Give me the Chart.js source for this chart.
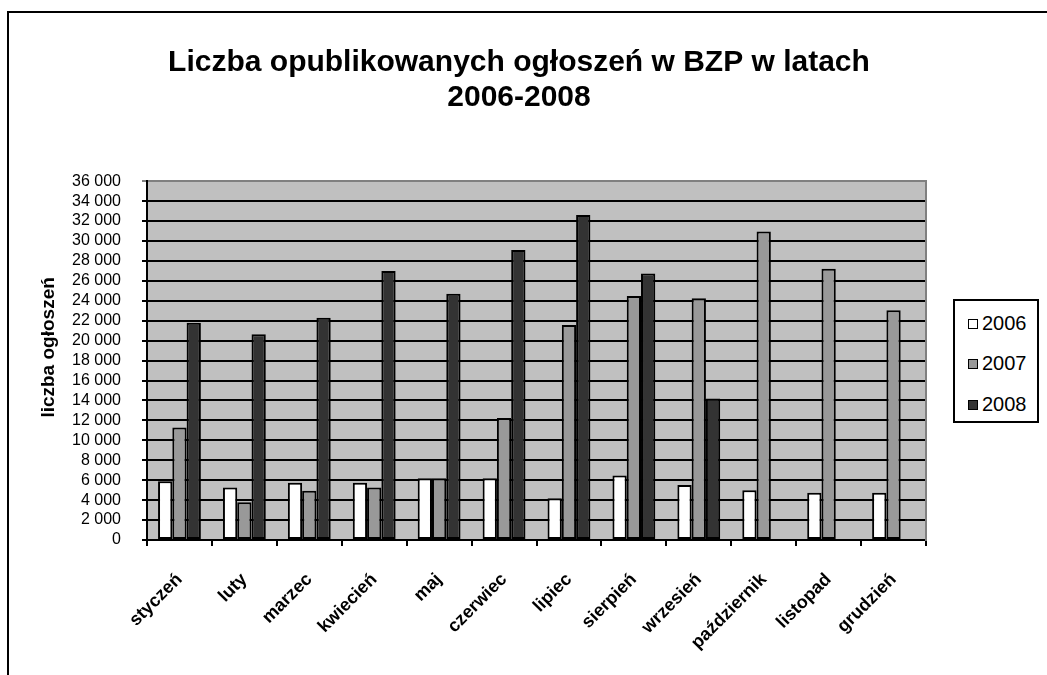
<!DOCTYPE html>
<html lang="pl">
<head>
<meta charset="utf-8">
<title>Liczba opublikowanych ogłoszeń w BZP</title>
<script src="https://cdn.jsdelivr.net/npm/chart.js@4.4.1/dist/chart.umd.min.js"></script>
<style>
    html, body { margin: 0; padding: 0; background: #fff; overflow: hidden; }
    #frame { position: absolute; left: 7px; top: 11px; width: 2000px; height: 2000px; border: 2px solid #000; }
    #chart { position: absolute; left: 0; top: 0; }
    #legend {
        position: absolute; left: 953px; top: 299px; width: 82px; height: 120px;
        border: 2px solid #000; background: #fff;
        font-family: 'Liberation Sans', Arial, sans-serif; font-size: 20px; color: #000;
    }
    #legend .item { position: absolute; left: 13px; height: 20px; line-height: 20px; white-space: nowrap; }
    #legend .sw { display: inline-block; width: 8px; height: 8px; border: 1.5px solid #000; margin-right: 4px; vertical-align: 1px; }
</style>
</head>
<body>
<div id="frame"></div>
<canvas id="chart" width="1047" height="675"></canvas>
<div id="legend"></div>
<script>
// values
const months = ['styczeń', 'luty', 'marzec', 'kwiecień', 'maj', 'czerwiec', 'lipiec', 'sierpień', 'wrzesień', 'październik', 'listopad', 'grudzień'];
const years = ['2006', '2007', '2008'];
const data2006 = [5900, 5270, 5750, 5750, 6200, 6200, 4200, 6480, 5530, 4980, 4730, 4730];
const data2007 = [11300, 3800, 4950, 5270, 6200, 12250, 21570, 24470, 24250, 30950, 27220, 23040];
const data2008 = [21800, 20650, 22300, 27000, 24700, 29100, 32600, 26750, 14200, null, null, null];
const yMax = 36000;
const yStep = 2000;

const FONT = "'Liberation Sans', Arial, sans-serif";
const colors = ['#ffffff', '#999999', '#333333'];

// gray fill behind the plot area
const plotBg = {
    id: 'plotBg',
    beforeDraw(chart) {
        const { ctx, chartArea: a } = chart;
        ctx.save();
        ctx.fillStyle = '#c0c0c0';
        ctx.fillRect(a.left, a.top, a.width, a.height);
        ctx.restore();
    }
};

const fmt = v => String(v).replace(/\B(?=(\d{3})+(?!\d))/g, ' ');

const chart = new Chart(document.getElementById('chart').getContext('2d'), {
    type: 'bar',
    data: {
        labels: months,
        datasets: [data2006, data2007, data2008].map((d, i) => ({
            label: years[i],
            data: d,
            backgroundColor: colors[i],
            borderColor: '#000',
            borderWidth: 2,
            borderSkipped: false,
            categoryPercentage: 0.66,
            barPercentage: 1
        }))
    },
    options: {
        responsive: false,
        animation: false,
        layout: { padding: { left: 0, right: 9, top: 0, bottom: 0 } },
        plugins: {
            legend: { display: false },
            tooltip: { enabled: false },
            title: {
                display: true,
                text: ['Liczba opublikowanych ogłoszeń w BZP w latach', '2006-2008'],
                color: '#000',
                font: { family: FONT, size: 30, weight: 'bold', lineHeight: 1.17 },
                padding: { top: 45, bottom: 66 }
            }
        },
        scales: {
            x: {
                afterFit: s => { s.height = 135; },
                grid: { drawOnChartArea: false, drawTicks: true, tickLength: 6, color: '#000', lineWidth: 2 },
                border: { display: true, color: '#000', width: 2 },
                ticks: {
                    autoSkip: false, minRotation: 45, maxRotation: 45, padding: 23,
                    color: '#000', font: { family: FONT, size: 18, weight: 'bold' }
                }
            },
            y: {
                min: 0,
                max: yMax,
                afterFit: s => { s.width = 147; },
                grid: {
                    color: c => (c.tick && c.tick.value === yMax ? '#808080' : '#000'),
                    lineWidth: 2,
                    tickLength: 5
                },
                border: { display: true, color: '#000', width: 2 },
                ticks: {
                    stepSize: yStep, autoSkip: false, padding: 21,
                    color: '#000', font: { family: FONT, size: 16 },
                    callback: v => fmt(v)
                },
                title: {
                    display: true,
                    text: '\u00a0\u00a0\u00a0\u00a0\u00a0liczba ogłoszeń',
                    color: '#000',
                    font: { family: FONT, size: 19, weight: 'bold', lineHeight: 1.2 },
                    padding: { top: 37, bottom: 0 }
                }
            },
            y2: {
                position: 'right',
                min: 0,
                max: yMax,
                afterFit: s => { s.width = 112; },
                grid: { drawOnChartArea: false, drawTicks: false },
                border: { display: true, color: '#808080', width: 2 },
                ticks: { display: false }
            }
        }
    },
    plugins: [plotBg]
});

// legend box at the right
const legend = document.getElementById('legend');
const legendTops = [12, 52, 93];
legend.innerHTML = years.map((y, i) =>
    `<div class="item" style="top:${legendTops[i]}px"><span class="sw" style="background:${colors[i]}"></span>${y}</div>`
).join('');
</script>
</body>
</html>
